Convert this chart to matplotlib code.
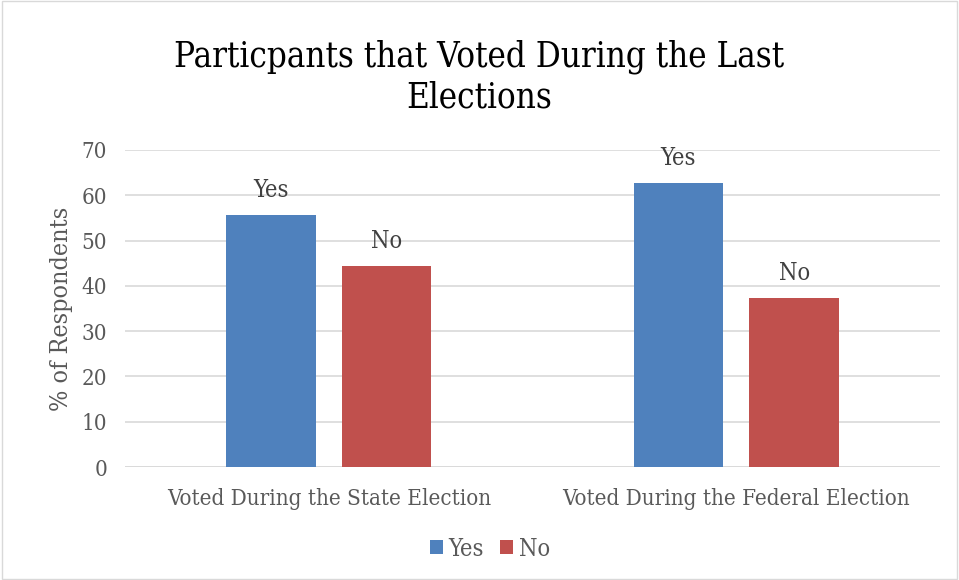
import numpy as np
import matplotlib
matplotlib.use("Agg")
import matplotlib.pyplot as plt
from matplotlib.patches import Rectangle

categories = ["Voted During the State Election", "Voted During the Federal Election"]
yes_values = [55.6, 62.7]
no_values = [44.4, 37.3]
series_names = ["Yes", "No"]

plt.rcParams["font.family"] = ["DejaVu Serif"]
plt.rcParams["font.stretch"] = "condensed"

fig = plt.figure(figsize=(9.59, 5.80), dpi=100)
ax = fig.add_axes([125 / 959, 1 - 467 / 580, (940 - 125) / 959, (467 - 150) / 580])

x = np.arange(len(categories))
w = 0.22
off = 0.142
b1 = ax.bar(x - off, yes_values, w, color="#4f81bd", label=series_names[0], zorder=3)
b2 = ax.bar(x + off, no_values, w, color="#c0504d", label=series_names[1], zorder=3)

for bars, name in [(b1, "Yes"), (b2, "No")]:
    for r in bars:
        ax.text(r.get_x() + r.get_width() / 2, r.get_height() + 5.4, name,
                ha="center", va="center", fontsize=17, color="#404040")

ax.set_xlim(-0.5, 1.5)
ax.set_ylim(0, 70)
ax.set_yticks(range(0, 71, 10))
ax.set_xticks(x)
ax.set_xticklabels(categories, fontsize=16, color="#595959")
ax.tick_params(axis="y", labelsize=16, labelcolor="#595959", length=0, pad=13)
ax.tick_params(axis="x", length=0, pad=15)
ax.grid(axis="y", color="#d9d9d9", linewidth=1.2, zorder=0)
for s in ax.spines.values():
    s.set_visible(False)
ax.axhline(0, color="#d9d9d9", linewidth=1.2, zorder=1)

ax.set_ylabel("% of Respondents", fontsize=18, color="#595959", labelpad=6)
fig.text(0.5, 1 - 77 / 580, "Particpants that Voted During the Last\nElections",
         ha="center", va="center", fontsize=25, color="black", linespacing=1.25)

fig.legend(handles=[b1, b2], loc="center", bbox_to_anchor=(490 / 959, 1 - 549 / 580),
           ncol=2, frameon=False, fontsize=17, handlelength=0.55, handleheight=0.55,
           handletextpad=0.25, columnspacing=0.7, labelcolor="#595959")

fig.patches.append(Rectangle((0.002, 0.002), 0.996, 0.996, transform=fig.transFigure,
                             fill=False, edgecolor="#d9d9d9", linewidth=1))

fig.savefig("out.png", dpi=100)
